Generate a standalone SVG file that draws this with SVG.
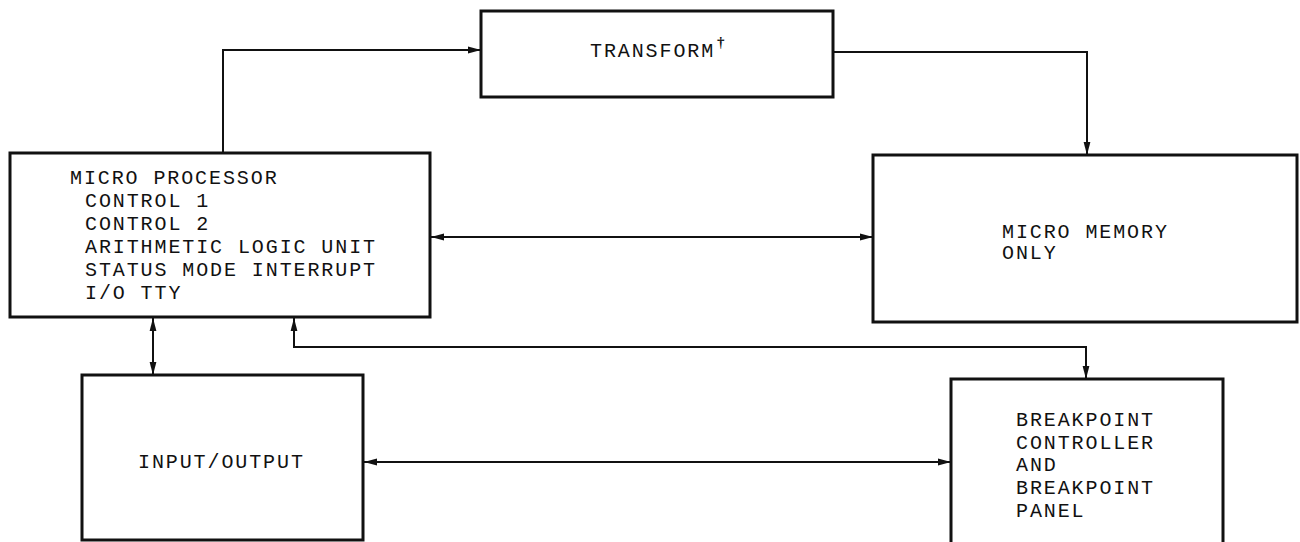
<svg xmlns="http://www.w3.org/2000/svg" width="1300" height="542" viewBox="0 0 1300 542">
  <style>
    .box { fill: #ffffff; stroke: #111111; stroke-width: 3; }
    .wire { fill: none; stroke: #111111; stroke-width: 2; }
    .lbl { font-family: "Liberation Mono", "Courier New", monospace; font-size: 20px; letter-spacing: 1.9px; fill: #111111; }
    .dag { font-family: "Liberation Serif", serif; font-size: 15px; font-weight: bold; fill: #111111; }
  </style>
  <defs>
    <marker id="arrow" viewBox="0 0 13 8" refX="13" refY="4" markerWidth="13" markerHeight="8" markerUnits="userSpaceOnUse" orient="auto-start-reverse">
      <path d="M0,0.6 L13,4 L0,7.4 Z" fill="#111111"/>
    </marker>
  </defs>
  <rect width="1300" height="542" fill="#ffffff"/>

  <g id="connectors">
    <!-- processor up to transform -->
    <path class="wire" d="M223,153 V50 H481" marker-end="url(#arrow)"/>
    <!-- transform over to micro memory -->
    <path class="wire" d="M833,52 H1087 V155" marker-end="url(#arrow)"/>
    <!-- processor <-> micro memory -->
    <path class="wire" d="M431,237 H873" marker-start="url(#arrow)" marker-end="url(#arrow)"/>
    <!-- processor <-> input/output -->
    <path class="wire" d="M153,318 V375" marker-start="url(#arrow)" marker-end="url(#arrow)"/>
    <!-- processor <-> breakpoint controller -->
    <path class="wire" d="M294,318 V347 H1086 V379" marker-start="url(#arrow)" marker-end="url(#arrow)"/>
    <!-- input/output <-> breakpoint controller -->
    <path class="wire" d="M364,462 H951" marker-start="url(#arrow)" marker-end="url(#arrow)"/>
  </g>

  <g id="transform">
    <rect class="box" x="481" y="11" width="352" height="86"/>
    <text class="lbl" x="590" y="57">TRANSFORM</text>
    <text class="dag" x="717" y="47">†</text>
  </g>

  <g id="micro-processor">
    <rect class="box" x="10" y="153" width="420" height="164"/>
    <text class="lbl" x="70" y="184">MICRO PROCESSOR</text>
    <text class="lbl" x="85" y="207">CONTROL 1</text>
    <text class="lbl" x="85" y="230">CONTROL 2</text>
    <text class="lbl" x="85" y="253">ARITHMETIC LOGIC UNIT</text>
    <text class="lbl" x="85" y="276">STATUS MODE INTERRUPT</text>
    <text class="lbl" x="85" y="299">I/O TTY</text>
  </g>

  <g id="micro-memory">
    <rect class="box" x="873" y="155" width="424" height="167"/>
    <text class="lbl" x="1002" y="238">MICRO MEMORY</text>
    <text class="lbl" x="1002" y="259">ONLY</text>
  </g>

  <g id="input-output">
    <rect class="box" x="82" y="375" width="281" height="165"/>
    <text class="lbl" x="138" y="468">INPUT/OUTPUT</text>
  </g>

  <g id="breakpoint-controller">
    <rect class="box" x="951" y="379" width="272" height="170"/>
    <text class="lbl" x="1016" y="426">BREAKPOINT</text>
    <text class="lbl" x="1016" y="449">CONTROLLER</text>
    <text class="lbl" x="1016" y="471">AND</text>
    <text class="lbl" x="1016" y="494">BREAKPOINT</text>
    <text class="lbl" x="1016" y="517">PANEL</text>
  </g>
</svg>
